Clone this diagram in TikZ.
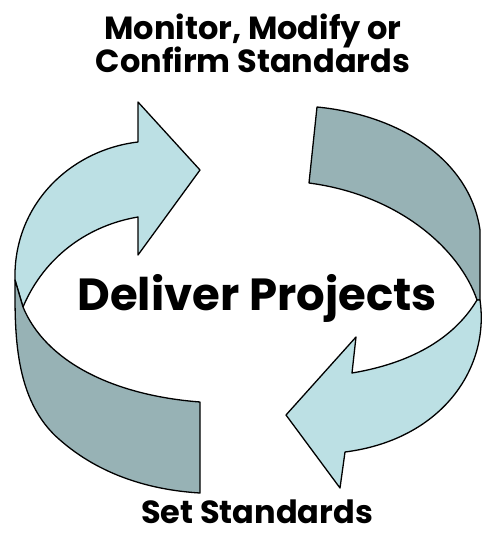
\documentclass[tikz,border=0pt]{standalone}
\usepackage{fontspec}
\setmainfont{Poppins}
\definecolor{lightband}{RGB}{188,224,228}
\definecolor{darkband}{RGB}{151,178,181}
\begin{document}
\begin{tikzpicture}[x=1pt,y=-1pt,
  band/.style={draw=black,line width=1.3pt,line join=round},
  lbl/.style={font=\fontsize{32}{35}\selectfont\bfseries,inner sep=0pt,align=center},
  big/.style={font=\fontsize{45}{48}\selectfont\bfseries,inner sep=0pt}]
\useasboundingbox (0,0) rectangle (482,536);
% left arrow: light front part with head
\path[band,fill=lightband] (138,142) -- (138,102) -- (200,170) -- (138,255) -- (138,217)
  .. controls (90,225) and (45,255) .. (23,307)
  -- (15,280)
  .. controls (13,205) and (70,150) .. (138,142) -- cycle;
% left arrow: dark back part
\path[band,fill=darkband] (15,280)
  .. controls (15,330) and (13,400) .. (60,440)
  .. controls (100,475) and (150,490) .. (200,493)
  -- (200,402)
  .. controls (110,395) and (45,360) .. (23,307) -- cycle;
% right arrow: dark back part
\path[band,fill=darkband] (317,107)
  .. controls (400,115) and (470,160) .. (480,230)
  -- (480,300) -- (477,300)
  .. controls (460,250) and (400,195) .. (309,183) -- cycle;
% right arrow: light front part with head
\path[band,fill=lightband] (477,300) -- (480,300)
  .. controls (490,370) and (440,440) .. (345,452)
  -- (340,488) -- (286,415) -- (356,337) -- (352,373)
  .. controls (400,365) and (450,345) .. (477,300) -- cycle;
% texts
\node[lbl] (top) at (253,43) {Monitor, Modify or\\[-2pt]Confirm Standards};
\node[big,anchor=base] (mid) at (257,310) {Deliver Projects};
\node[lbl,anchor=base] (bot) at (257,523) {Set Standards};
\end{tikzpicture}
\end{document}
